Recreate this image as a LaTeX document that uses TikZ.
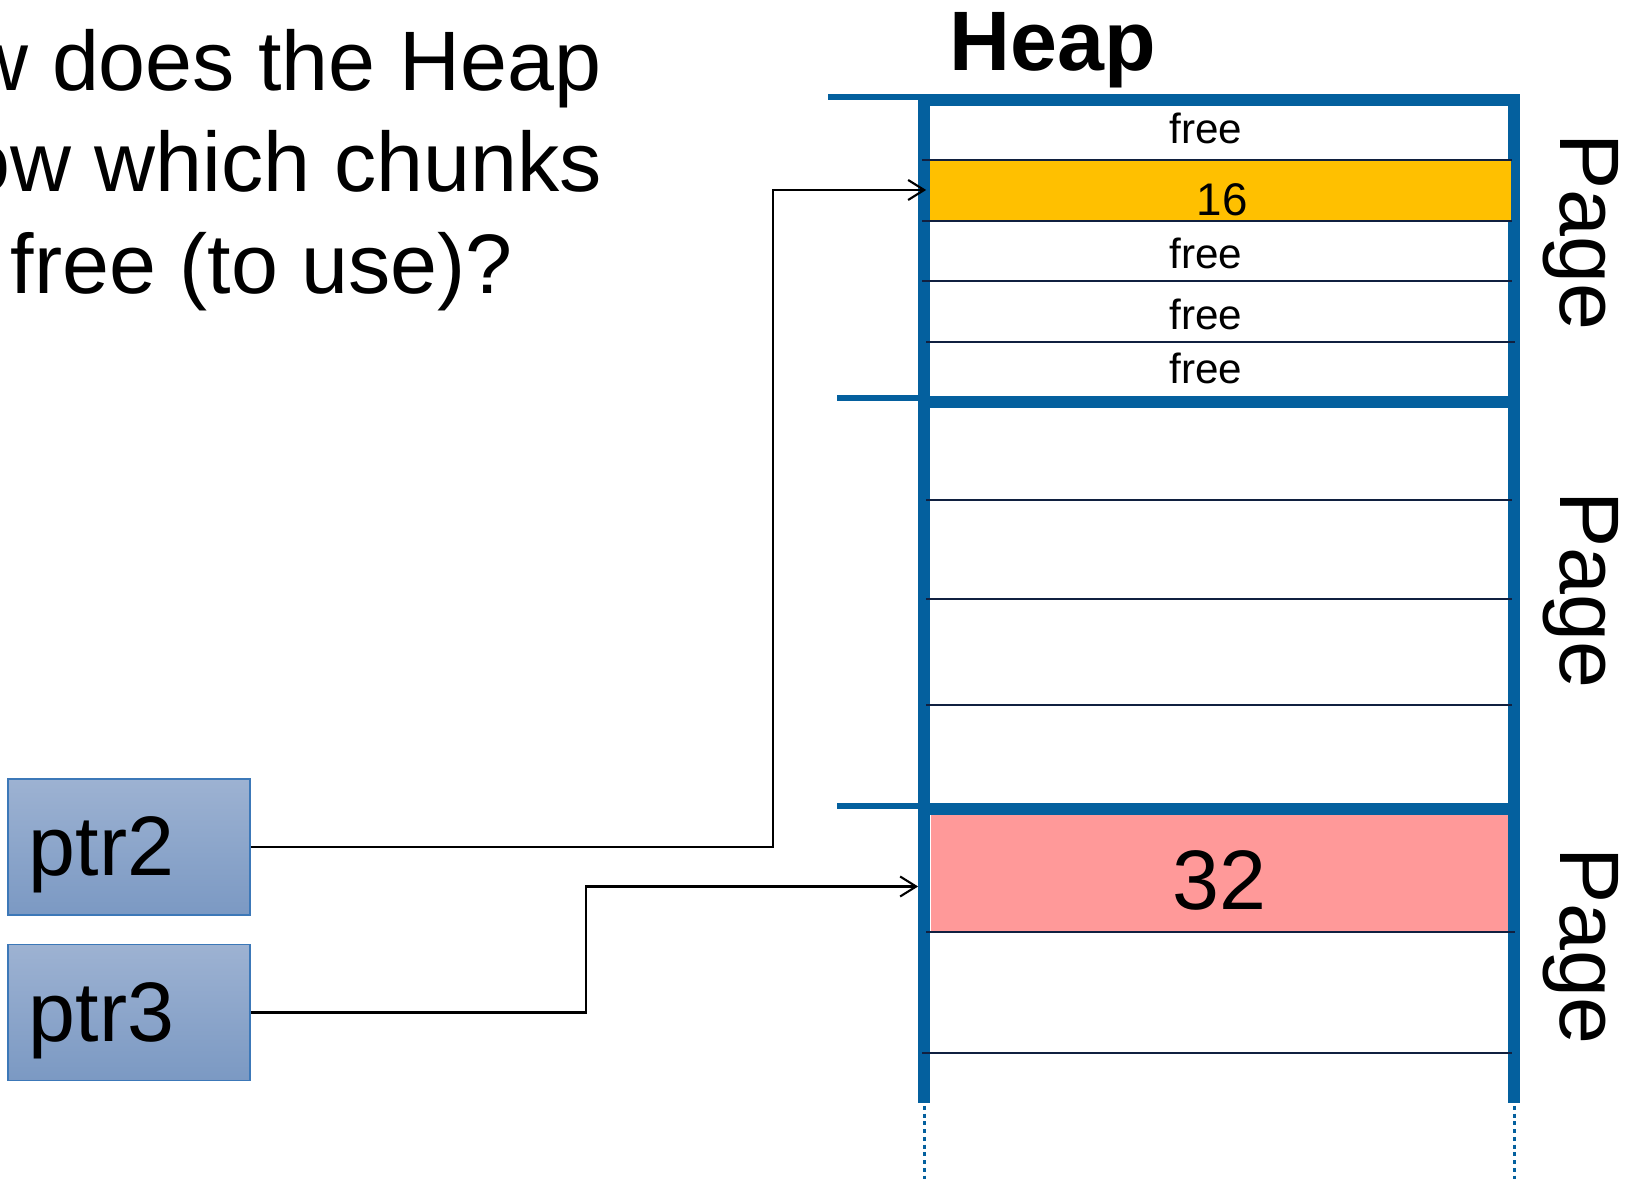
\documentclass[tikz,border=0pt]{standalone}
\usepackage{fontspec}
\setmainfont{Liberation Sans}
\usetikzlibrary{arrows.meta, positioning}

\definecolor{heapblue}{RGB}{4,96,158}
\definecolor{rowdark}{RGB}{16,32,64}
\definecolor{usedyellow}{RGB}{255,192,0}
\definecolor{usedpink}{RGB}{255,153,153}
\definecolor{ptrtop}{RGB}{157,178,210}
\definecolor{ptrbottom}{RGB}{123,153,195}
\definecolor{ptrborder}{RGB}{60,120,184}

\tikzset{
  bigtext/.style={font=\fontsize{24}{28}\selectfont, inner sep=0pt},
  smalltext/.style={font=\fontsize{12}{14}\selectfont, inner sep=0pt},
  wall/.style={draw=heapblue, line width=3.4pt, line join=miter},
  pagemark/.style={draw=heapblue, line width=1.7pt},
  wallend/.style={draw=heapblue, line width=0.85pt, dash pattern=on 1.1pt off 1.1pt},
  rowline/.style={draw=rowdark, line width=0.6pt},
  chunk/.style={minimum width=5.81cm, inner sep=0pt},
  ptrbox/.style={draw=ptrborder, line width=0.4pt, top color=ptrtop, bottom color=ptrbottom,
    minimum width=2.42cm, minimum height=1.36cm, text width=2.0cm, align=left,
    inner xsep=0.21cm, text height=0.57cm, text depth=0pt, font=\fontsize{24}{28}\selectfont},
  ptrarrow/.style={draw=black, line width=0.6pt, -{Straight Barb[length=1.6mm, width=2mm]}},
}

\begin{document}
\begin{tikzpicture}[x=0.01cm, y=-0.01cm]
\useasboundingbox (0,0) rectangle (1627,1183);

% Question
\node (q1) [bigtext, anchor=base west] at (-33,91) {w does the Heap};
\node (q2) [bigtext, anchor=base west] at (-37,192) {ow which chunks};
\node (q3) [bigtext, anchor=base west] at (10,294) {free (to use)?};

% Heap walls and page borders
\node (heap) [bigtext, font=\fontsize{24}{28}\selectfont\bfseries, anchor=base] at (1053,71) {Heap};
\draw[wall] (924,1103) -- (924,100) -- (1514,100) -- (1514,1103);
\draw[wall] (924,402) -- (1514,402);
\draw[wall] (924,809) -- (1514,809);
\draw[pagemark] (828,97) -- (921,97);
\draw[pagemark] (837,398) -- (921,398);
\draw[pagemark] (837,806) -- (921,806);
\draw[wallend] (924,1106) -- (924,1183);
\draw[wallend] (1514,1106) -- (1514,1183);

% Used chunks
\node (chunk16) [chunk, fill=usedyellow, minimum height=0.62cm] at (1220.5,190) {};
\node (chunk32) [chunk, fill=usedpink, minimum width=5.77cm, minimum height=1.17cm] at (1219.5,873.5) {};

% Chunk borders
\draw[rowline] (922,160) -- (1512,160);
\draw[rowline] (922,221) -- (1512,221);
\draw[rowline] (922,281) -- (1512,281);
\draw[rowline] (926,342) -- (1515,342);
\draw[rowline] (926,500) -- (1512,500);
\draw[rowline] (926,599) -- (1512,599);
\draw[rowline] (926,705) -- (1512,705);
\draw[rowline] (926,932) -- (1515,932);
\draw[rowline] (922,1053) -- (1512,1053);

% Chunk labels
\node (free1) [smalltext] at (1206,128) {free};
\node (lbl16) [smalltext, font=\fontsize{13}{15}\selectfont] at (1222,200) {16};
\node (free2) [smalltext] at (1206,253) {free};
\node (free3) [smalltext] at (1206,314) {free};
\node (free4) [smalltext] at (1206,368) {free};
\node (lbl32) [bigtext] at (1219,880) {32};

% Pages
\node (page1) [bigtext, rotate=-90, anchor=base] at (1560,232) {Page};
\node (page2) [bigtext, rotate=-90, anchor=base] at (1560,590) {Page};
\node (page3) [bigtext, rotate=-90, anchor=base] at (1560,946) {Page};

% Pointers
\node (ptr2) [ptrbox] at (129,847) {ptr2};
\node (ptr3) [ptrbox, below=0.28cm of ptr2] {ptr3};

% Arrows
\draw[ptrarrow] (ptr2.east) -- ++(522,0) |- ([xshift=-0.03cm]chunk16.west);
\draw[ptrarrow] (ptr3.east) -- ++(335,0) |- ([shift={(-12,13)}]chunk32.west);
\end{tikzpicture}
\end{document}
